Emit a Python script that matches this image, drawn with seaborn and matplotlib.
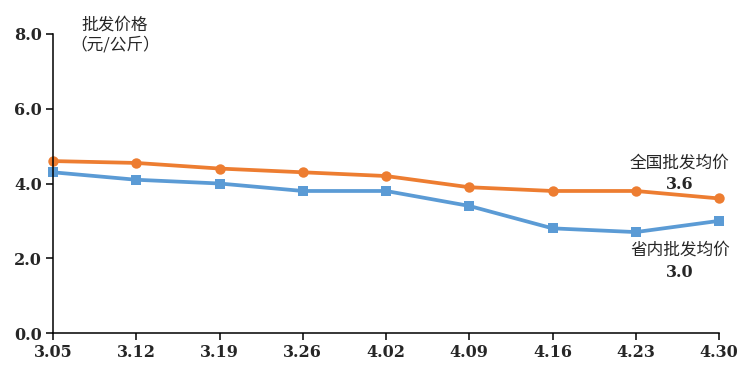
import pandas as pd
import matplotlib.pyplot as plt
import seaborn as sb

dates = ['3.05', '3.12', '3.19', '3.26', '4.02', '4.09', '4.16', '4.23', '4.30']
national = [4.6, 4.55, 4.4, 4.3, 4.2, 3.9, 3.8, 3.8, 3.6]
provincial = [4.3, 4.1, 4.0, 3.8, 3.8, 3.4, 2.8, 2.7, 3.0]

sb.set_style('white')
plt.rcParams['font.family'] = ['Noto Sans CJK SC', 'DejaVu Sans']

df = pd.DataFrame({'date': dates, 'national': national, 'provincial': provincial})

fig = plt.figure(figsize=(7.5, 3.72), dpi=100)
ax = fig.add_axes([53/750, 39/372, 666/750, 299/372])

sb.lineplot(data=df, x='date', y='national', color='#ED7D31', lw=2.7,
            marker='o', markersize=7.5, markeredgewidth=0, clip_on=False, ax=ax)
sb.lineplot(data=df, x='date', y='provincial', color='#5B9BD5', lw=2.7,
            marker='s', markersize=7, markeredgewidth=0, clip_on=False, ax=ax)

ax.set_xlim(0, len(dates) - 1)
ax.set_ylim(0, 8)
ax.set_yticks([0, 2, 4, 6, 8])
ax.set_yticklabels(['0.0', '2.0', '4.0', '6.0', '8.0'])
ax.set_xlabel('')
ax.set_ylabel('')
for s in ['top', 'right']:
    ax.spines[s].set_visible(False)
for s in ['left', 'bottom']:
    ax.spines[s].set_color('black')
    ax.spines[s].set_linewidth(1.1)
ax.tick_params(axis='both', direction='out', length=5, width=1.1, color='black',
               labelsize=11.5, pad=3, bottom=True, left=True)
for lab in ax.get_xticklabels() + ax.get_yticklabels():
    lab.set_family(['DejaVu Serif'])
    lab.set_fontweight('bold')

fig.text(115/750, 1 - 25/372, '批发价格', ha='center', va='center', fontsize=12)
fig.text(115/750, 1 - 45/372, '（元/公斤）', ha='center', va='center', fontsize=12)

ax.text(7.53, 4.55, '全国批发均价', ha='center', va='center', fontsize=12)
ax.text(7.53, 3.96, '3.6', ha='center', va='center', fontsize=11.5,
        family=['DejaVu Serif'], fontweight='bold')
ax.text(7.53, 2.22, '省内批发均价', ha='center', va='center', fontsize=12)
ax.text(7.53, 1.63, '3.0', ha='center', va='center', fontsize=11.5,
        family=['DejaVu Serif'], fontweight='bold')

fig.savefig('out.png', dpi=100)
